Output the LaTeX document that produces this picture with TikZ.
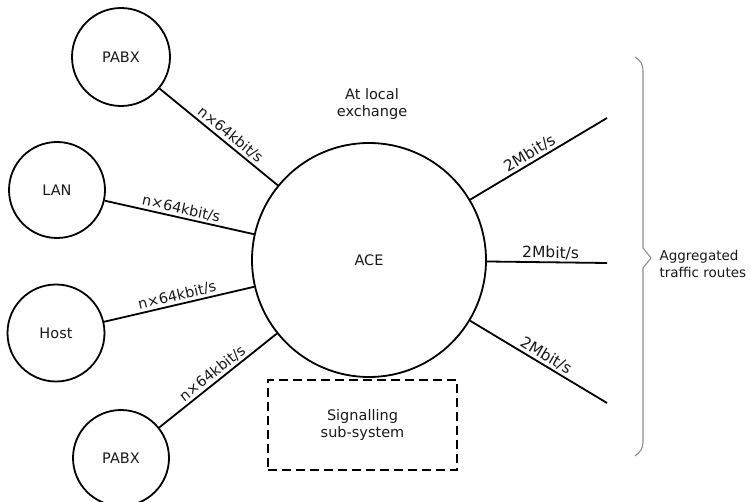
\documentclass[tikz,border=0pt]{standalone}
\usepackage{fontspec}
\setmainfont{DejaVu Sans}
\begin{document}
\begin{tikzpicture}[x=1pt,y=-1pt,
  every node/.style={font=\fontsize{14.5}{17}\selectfont, text=black!90},
  unit/.style={draw, circle, line width=1.8pt, minimum size=#1, inner sep=0pt},
  link/.style={line width=1.8pt},
  rate/.style={font=\fontsize{14.5}{16}\selectfont, sloped, above, inner sep=2pt},
  trunk/.style={font=\fontsize{15.5}{17}\selectfont, sloped, above, inner sep=2pt},
  sigbox/.style={draw, line width=1.8pt, dash pattern=on 9pt off 5pt,
    minimum width=189pt, minimum height=90pt, align=center},
  bracket/.style={draw=black!45, line width=1.1pt, line join=round}]
  \useasboundingbox (0,0) rectangle (751,502);

  % exchange and attached equipment
  \node[unit=234pt] (ace) at (369,260) {ACE};
  \node[unit=98pt] (pabxa) at (121,57) {PABX};
  \node[unit=96pt] (lan) at (57,190) {LAN};
  \node[unit=97pt] (host) at (56,333) {Host};
  \node[unit=96pt] (pabxb) at (121,458) {PABX};

  \node[sigbox] (sig) at (362.5,425) {Signalling\\sub-system};
  \node[align=center] (loc) at (372,104.5) {At local\\exchange};

  % trunk end points
  \coordinate (ra) at (607,118);
  \coordinate (rb) at (607,263);
  \coordinate (rc) at (607,403);

  % access links
  \draw[link] (pabxa) -- node[rate, pos=0.55] {n×64kbit/s} (ace);
  \draw[link] (lan) -- node[rate, pos=0.5] {n×64kbit/s} (ace);
  \draw[link] (host) -- node[rate, pos=0.5] {n×64kbit/s} (ace);
  \draw[link] (pabxb) -- node[rate, pos=0.5] {n×64kbit/s} (ace);

  % aggregated trunks
  \draw[link] (ace) -- node[trunk, pos=0.47] {2Mbit/s} (ra);
  \draw[link] (ace) -- node[trunk, pos=0.53] {2Mbit/s} (rb);
  \draw[link] (ace) -- node[trunk, pos=0.52] {2Mbit/s} (rc);

  % brace grouping the trunks
  \draw[bracket] (635,57) .. controls (641,61) and (643,64) .. (643,72)
    -- (643,248) -- (651,258) -- (643,268) -- (643,442)
    .. controls (643,449) and (640,452) .. (635,456);
  \node[anchor=west, align=left, font=\fontsize{13.5}{16.5}\selectfont] (agg)
    at (656,264) {Aggregated\\traffic routes};
\end{tikzpicture}
\end{document}
